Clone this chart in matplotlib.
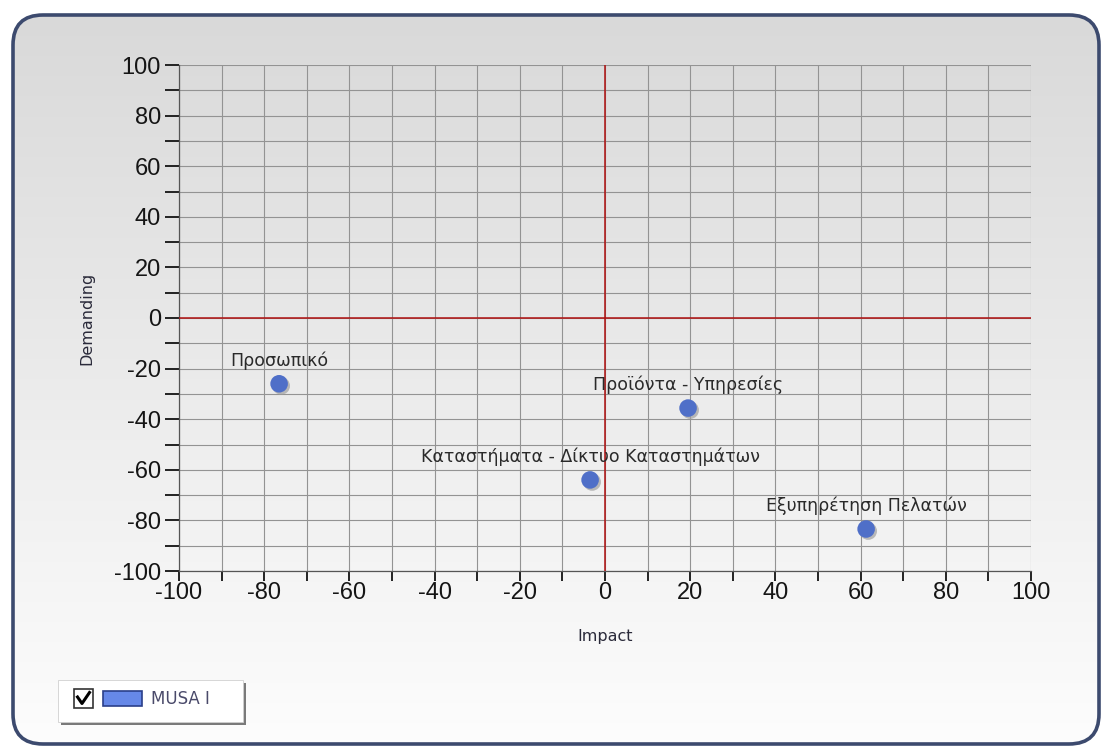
import matplotlib.pyplot as plt
import matplotlib.patheffects as pe
import numpy as np
from matplotlib.colors import LinearSegmentedColormap
from matplotlib.patches import FancyBboxPatch, Rectangle
from matplotlib.lines import Line2D

plt.rcParams["axes.unicode_minus"] = False

# data
labels = ["Προσωπικό", "Προϊόντα - Υπηρεσίες",
          "Καταστήματα - Δίκτυο Καταστημάτων", "Εξυπηρέτηση Πελατών"]
impact = [-76.5, 19.5, -3.5, 61.3]
demanding = [-26.0, -35.6, -64.0, -83.4]
major_ticks = list(range(-100, 101, 20))
minor_ticks = list(range(-90, 100, 20))
series_name = "MUSA I"

W, H = 1105, 753
fig = plt.figure(figsize=(W / 100, H / 100), dpi=100)
fig.patch.set_facecolor("white")

# background panel: rounded frame with a grey-to-white gradient
bg = fig.add_axes([0, 0, 1, 1])
bg.set_xlim(0, W)
bg.set_ylim(H, 0)
bg.axis("off")
grad = np.linspace(0, 1, 256).reshape(-1, 1)
cmap = LinearSegmentedColormap.from_list("g", ["#d9d9d9", "#ebebeb", "#fdfdfd"])
img = bg.imshow(grad, cmap=cmap, extent=[12, 1100, 745, 14], aspect="auto", zorder=0)
frame = FancyBboxPatch((13, 15), 1086, 729, boxstyle="round,pad=0,rounding_size=30",
                       facecolor="none", edgecolor="#3c4a6e", linewidth=2.6, zorder=2)
bg.add_patch(frame)
img.set_clip_path(frame)

# legend box with shadow
bg.add_patch(Rectangle((61, 683), 185, 42, facecolor="#7a7a7a", edgecolor="none", zorder=3))
bg.add_patch(Rectangle((58, 680), 185, 42, facecolor="white", edgecolor="#d0d0d0",
                       linewidth=0.6, zorder=4))
bg.add_patch(Rectangle((74, 689), 19, 19, facecolor="white", edgecolor="#333333",
                       linewidth=1.2, zorder=5))
bg.add_line(Line2D([77.5, 82, 89.5], [697, 703.5, 692.5], color="black", linewidth=2.2, zorder=6))
bg.add_patch(Rectangle((103, 691), 39, 15, facecolor="#6688e8", edgecolor="#2b3f8a",
                       linewidth=1.2, zorder=5))
bg.text(151, 699, series_name, fontsize=12, color="#4a4a6a", va="center", ha="left",
        family="DejaVu Sans", zorder=6)

# plot area
ax = fig.add_axes([179 / W, 1 - 571 / H, 852 / W, 506 / H])
ax.set_facecolor("none")
ax.set_xlim(-100, 100)
ax.set_ylim(-100, 100)
ax.set_xticks(major_ticks)
ax.set_xticks(minor_ticks, minor=True)
ax.set_yticks(major_ticks)
ax.set_yticks(minor_ticks, minor=True)
ax.grid(True, which="both", color="#939393", linewidth=0.8)
for side in ["top", "right"]:
    ax.spines[side].set_visible(False)
for side in ["left", "bottom"]:
    ax.spines[side].set_color("#555555")
    ax.spines[side].set_linewidth(0.9)

ax.tick_params(axis="both", which="both", direction="out", color="#222222", width=1.4)
ax.tick_params(axis="y", which="both", length=10, pad=3)
ax.tick_params(axis="x", which="both", length=7, pad=1)
ax.tick_params(axis="both", which="major", labelsize=17, labelcolor="#151515")
for lab in ax.get_xticklabels() + ax.get_yticklabels():
    lab.set_family("Liberation Sans")

ax.axhline(0, color="#b01010", linewidth=1.1, zorder=3)
ax.axvline(0, color="#b01010", linewidth=1.1, zorder=3)

ax.scatter(impact, demanding, s=160, color="#4f6fc8", edgecolors="none", zorder=5,
           path_effects=[pe.SimplePatchShadow(offset=(1.5, -1.5), shadow_rgbFace="#a0a0a0", alpha=0.7),
                         pe.Normal()])
for x, y, name in zip(impact, demanding, labels):
    ax.annotate(name, (x, y), xytext=(0, 10), textcoords="offset points",
                ha="center", va="bottom", fontsize=12.5, color="#2a2a2a",
                family="DejaVu Sans", zorder=6)

ax.set_xlabel("Impact", fontsize=11.5, color="#2a2a3a", family="DejaVu Sans", labelpad=18)
ax.set_ylabel("Demanding", fontsize=11.5, color="#2a2a3a", family="DejaVu Sans", labelpad=14)

fig.savefig("out.png", dpi=100)
